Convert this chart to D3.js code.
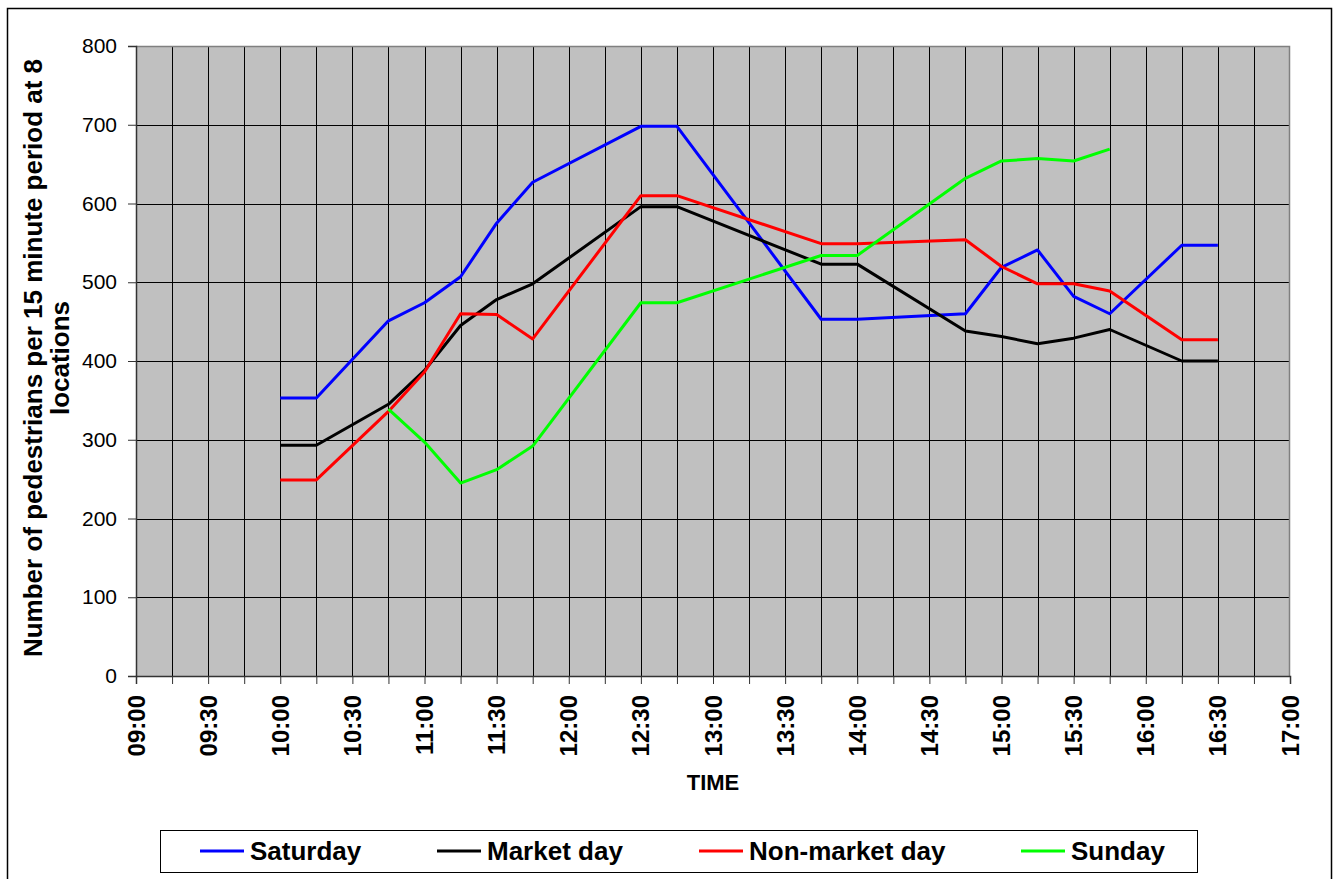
<!DOCTYPE html>
<html>
<head>
  <meta charset="utf-8">
  <title>Pedestrian counts</title>
  <style>
    body { margin: 0; background: #fff; }
    svg { font-family: "Liberation Sans", Arial, sans-serif; }
  </style>
</head>
<body>
  <svg id="chart"></svg>

  <script src="https://d3js.org/d3.v7.min.js"></script>
  <script>
    // data (pedestrians per 15 minutes, 8 locations)
    const times = ["10:00", "10:15", "10:45", "11:00", "11:15", "11:30", "11:45", "12:30", "12:45",
                   "13:45", "14:00", "14:45", "15:00", "15:15", "15:30", "15:45", "16:15", "16:30"];
    const saturday  = [353, 353, 451, 474, 507, 575, 627, 698, 698, 453, 453, 460, 519, 541, 482, 460, 547, 547];
    const marketDay = [293, 293, 345, 388, 445, 478, 498, 596, 596, 523, 523, 438, 431, 422, 429, 440, 400, 400];
    const nonMarket = [249, 249, 336, 386, 460, 459, 428, 610, 610, 549, 549, 554, 520, 498, 498, 489, 427, 427];
    const sunday    = [null, null, 339, 297, 245, 262, 292, 474, 474, 534, 534, 632, 654, 657, 654, 669, null, null];
    const seriesNames = ["Saturday", "Market day", "Non-market day", "Sunday"];
    const seriesColors = ["#0000ff", "#000000", "#ff0000", "#00ff00"];
    const yTicks = [0, 100, 200, 300, 400, 500, 600, 700, 800];

    const width = 1333, height = 879;
    const plotL = 136, plotR = 1290, plotT = 46, plotB = 676;

    const svg = d3.select("#chart").attr("width", width).attr("height", height);

    // outer frame
    svg.append("rect")
      .attr("x", 7.5).attr("y", 8.5)
      .attr("width", 1324).attr("height", 880)
      .attr("fill", "none").attr("stroke", "#000").attr("stroke-width", 1.5);

    const parseT = s => {
      const [h, m] = s.split(":").map(Number);
      return new Date(Date.UTC(2000, 0, 1, h, m));
    };

    const x = d3.scaleUtc()
      .domain([parseT("09:00"), parseT("17:00")])
      .range([plotL, plotR]);
    const y = d3.scaleLinear().domain([0, 800]).range([plotB, plotT]);

    // plot background
    svg.append("rect")
      .attr("x", plotL).attr("y", plotT)
      .attr("width", plotR - plotL).attr("height", plotB - plotT)
      .attr("fill", "#c0c0c0");

    const quarters = x.ticks(d3.utcMinute.every(15));
    const halves = x.ticks(d3.utcMinute.every(30));

    // gridlines
    svg.append("g").selectAll("line")
      .data(quarters.slice(1, -1))
      .join("line")
      .attr("x1", d => Math.round(x(d)) + 0.5).attr("x2", d => Math.round(x(d)) + 0.5)
      .attr("y1", plotT).attr("y2", plotB)
      .attr("stroke", "#000").attr("stroke-width", 1);

    svg.append("g").selectAll("line")
      .data(yTicks.slice(1))
      .join("line")
      .attr("x1", plotL).attr("x2", plotR)
      .attr("y1", d => Math.round(y(d)) + 0.5).attr("y2", d => Math.round(y(d)) + 0.5)
      .attr("stroke", "#000").attr("stroke-width", 1);

    // plot border (top/right grey)
    svg.append("path")
      .attr("d", `M${plotL},${plotT + 0.5}H${plotR - 0.5}V${plotB}`)
      .attr("fill", "none").attr("stroke", "#808080").attr("stroke-width", 1.5);

    // y axis
    const yAxis = svg.append("g")
      .attr("transform", `translate(${plotL},0)`)
      .call(d3.axisLeft(y).tickValues(yTicks).tickSize(8).tickPadding(11));
    yAxis.select(".domain").attr("stroke", "#333").attr("stroke-width", 1.5);
    yAxis.selectAll(".tick line").attr("stroke", "#333");
    yAxis.selectAll("text")
      .attr("font-size", 21).attr("fill", "#000")
      .attr("font-family", "'Liberation Sans', Arial, sans-serif");

    // x axis: ticks every 15 minutes, labels every 30
    const xAxis = svg.append("g")
      .attr("transform", `translate(0,${plotB})`)
      .call(d3.axisBottom(x).tickValues(quarters).tickSize(8).tickFormat(""));
    xAxis.select(".domain").attr("stroke", "#333").attr("stroke-width", 1.5);
    xAxis.selectAll(".tick line").attr("stroke", "#333");

    const fmt = d3.utcFormat("%H:%M");
    svg.append("g").selectAll("text")
      .data(halves)
      .join("text")
      .attr("transform", d => `translate(${x(d) + 8.5},${plotB + 19}) rotate(-90)`)
      .attr("text-anchor", "end")
      .attr("font-size", 24).attr("font-weight", "bold")
      .text(fmt);

    // axis titles
    svg.append("text")
      .attr("x", (plotL + plotR) / 2).attr("y", 790)
      .attr("text-anchor", "middle")
      .attr("font-size", 22).attr("font-weight", "bold")
      .text("TIME");

    const yTitle = svg.append("text")
      .attr("transform", `translate(42,358) rotate(-90)`)
      .attr("text-anchor", "middle")
      .attr("font-size", 26).attr("font-weight", "bold");
    yTitle.append("tspan").attr("x", 0).attr("dy", 0)
      .text("Number of pedestrians per 15 minute period at 8");
    yTitle.append("tspan").attr("x", 0).attr("dy", 27)
      .text("locations");

    // series
    const series = [saturday, marketDay, nonMarket, sunday];
    const line = d3.line()
      .defined(d => d.v != null)
      .x(d => x(d.t))
      .y(d => y(d.v));

    series.forEach((vals, i) => {
      const pts = times.map((t, j) => ({ t: parseT(t), v: vals[j] }));
      svg.append("path")
        .datum(pts)
        .attr("d", line)
        .attr("fill", "none")
        .attr("stroke", seriesColors[i])
        .attr("stroke-width", 3)
        .attr("stroke-linejoin", "round");
    });

    // legend
    const legend = svg.append("g");
    legend.append("rect")
      .attr("x", 160.5).attr("y", 830.5)
      .attr("width", 1037).attr("height", 42)
      .attr("fill", "#fff").attr("stroke", "#000").attr("stroke-width", 1);

    const legendX = [200, 437, 699, 1021];
    seriesNames.forEach((name, i) => {
      legend.append("line")
        .attr("x1", legendX[i]).attr("x2", legendX[i] + 44)
        .attr("y1", 851).attr("y2", 851)
        .attr("stroke", seriesColors[i]).attr("stroke-width", 3);
      legend.append("text")
        .attr("x", legendX[i] + 50).attr("y", 860)
        .attr("font-size", 26).attr("font-weight", "bold")
        .text(name);
    });
  </script>
</body>
</html>
